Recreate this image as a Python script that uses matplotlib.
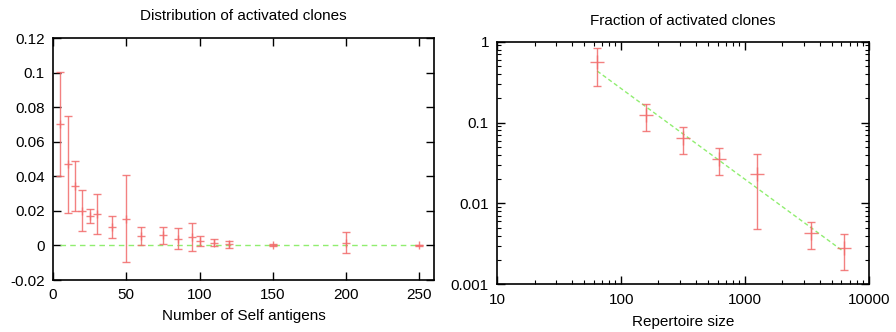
import numpy as np
import matplotlib
matplotlib.use("Agg")
import matplotlib.pyplot as plt
from matplotlib.ticker import LogLocator, NullFormatter, FixedLocator

plt.rcParams["font.family"] = ["Liberation Sans", "DejaVu Sans"]
plt.rcParams["font.size"] = 11

# left panel: distribution of activated clones
self_antigens = [5, 10, 15, 20, 25, 30, 40, 50, 60, 75, 85, 95, 100, 110, 120, 150, 200, 250]
activated = [0.0703, 0.047, 0.0344, 0.0201, 0.0172, 0.0182, 0.0108, 0.0155, 0.0054,
             0.0058, 0.0039, 0.005, 0.0025, 0.0016, 0.0006, 0.0002, 0.0016, 0.0]
activated_err = [0.030, 0.028, 0.0145, 0.012, 0.004, 0.0118, 0.0065, 0.025, 0.005,
                 0.005, 0.006, 0.008, 0.003, 0.002, 0.002, 0.0008, 0.006, 0.0003]
zero_x = [5, 250]
zero_y = [0, 0]

# right panel: fraction of activated clones vs repertoire size
repertoire = [64, 160, 313, 612, 1254, 3380, 6250]
fraction = [0.556, 0.125, 0.0645, 0.0355, 0.023, 0.00428, 0.00284]
fraction_lo = [0.283, 0.0787, 0.041, 0.0225, 0.0048, 0.00272, 0.0015]
fraction_hi = [0.83, 0.171, 0.0875, 0.049, 0.0405, 0.00586, 0.00424]
fit_x = [64, 6250]
fit_y = [0.434, 0.00254]

err_color = "#f26b6b"
fit_color = "#90ee70"

fig = plt.figure(figsize=(8.96, 3.32), dpi=100)
ax1 = fig.add_axes([0.0592, 0.1566, 0.4252, 0.7289])
ax2 = fig.add_axes([0.555, 0.1437, 0.4148, 0.7307])

ax1.plot(zero_x, zero_y, color=fit_color, lw=1, dashes=(4, 3))
ax1.errorbar(self_antigens, activated, yerr=activated_err, fmt="+", color=err_color,
             ecolor=err_color, elinewidth=1, capsize=3, capthick=1, ms=6, mew=1, alpha=0.85)
ax1.set_xlim(0, 260)
ax1.set_ylim(-0.02, 0.12)
ax1.set_xticks([0, 50, 100, 150, 200, 250])
ax1.set_yticks([-0.02, 0, 0.02, 0.04, 0.06, 0.08, 0.1, 0.12])
ax1.set_yticklabels(["-0.02", "0", "0.02", "0.04", "0.06", "0.08", "0.1", "0.12"])
ax1.set_title("Distribution of activated clones", fontsize=11, pad=13)
ax1.set_xlabel("Number of Self antigens", fontsize=11, labelpad=5)

lo = np.array(fraction) - np.array(fraction_lo)
hi = np.array(fraction_hi) - np.array(fraction)
ax2.plot(fit_x, fit_y, color=fit_color, lw=1, dashes=(3, 2))
ax2.errorbar(repertoire, fraction, yerr=[lo, hi], fmt="+", color=err_color,
             ecolor=err_color, elinewidth=1, capsize=3, capthick=1, ms=10, mew=1, alpha=0.85)
ax2.set_xscale("log")
ax2.set_yscale("log")
ax2.set_xlim(10, 10000)
ax2.set_ylim(0.001, 1)
ax2.xaxis.set_major_locator(FixedLocator([10, 100, 1000, 10000]))
ax2.yaxis.set_major_locator(FixedLocator([0.001, 0.01, 0.1, 1]))
ax2.set_xticklabels(["10", "100", "1000", "10000"])
ax2.set_yticklabels(["0.001", "0.01", "0.1", "1"])
for axis in (ax2.xaxis, ax2.yaxis):
    axis.set_minor_locator(LogLocator(base=10, subs=np.arange(2, 10)))
    axis.set_minor_formatter(NullFormatter())
ax2.set_title("Fraction of activated clones", fontsize=11, pad=12)
ax2.set_xlabel("Repertoire size", fontsize=11, labelpad=6)

for ax in (ax1, ax2):
    ax.tick_params(which="both", direction="in", top=True, right=True, labelsize=11, pad=6)
    ax.tick_params(which="major", length=6, width=1)
    ax.tick_params(which="minor", length=3, width=0.8)
    for s in ax.spines.values():
        s.set_linewidth(1.2)

fig.savefig("out.png", dpi=100)
